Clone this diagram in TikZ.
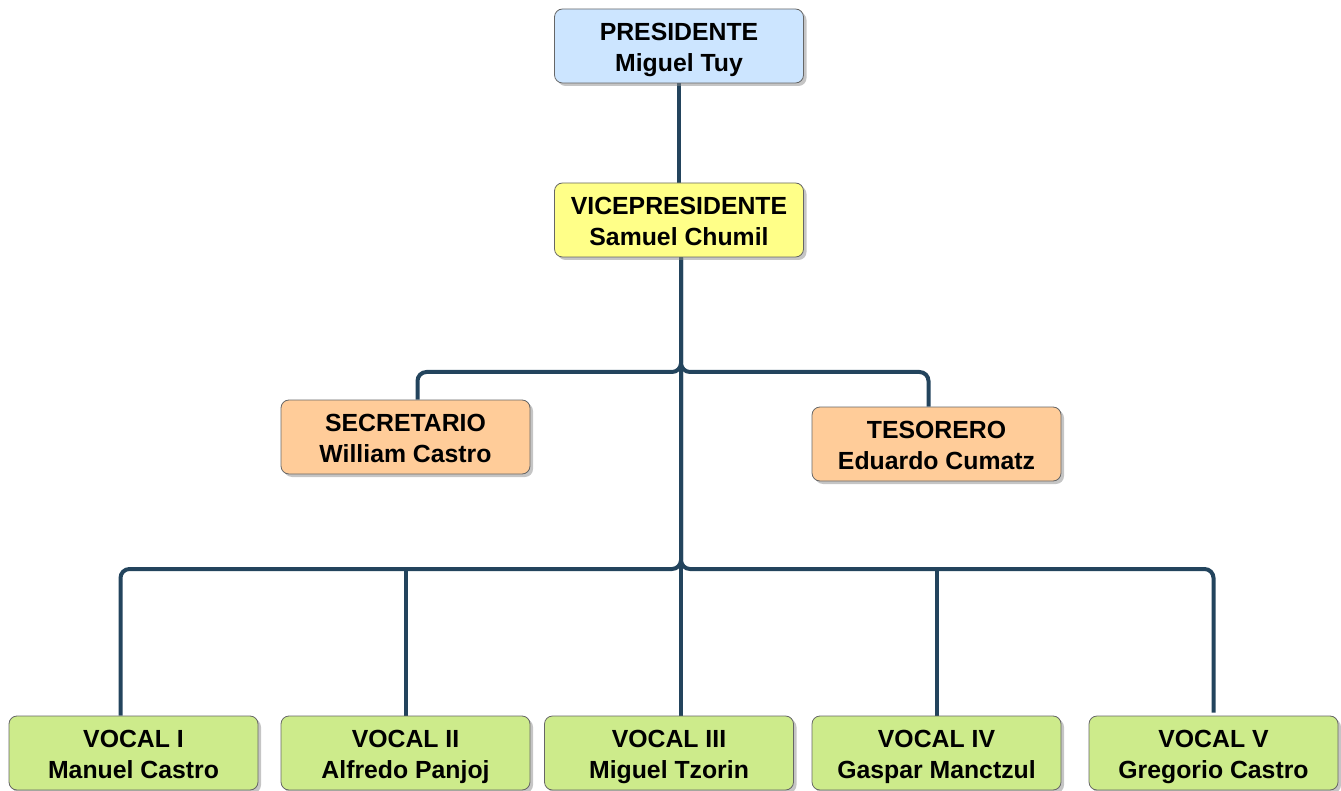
\documentclass[tikz,border=0pt]{standalone}
\usepackage{fontspec}
\setmainfont{Liberation Sans}
\usetikzlibrary{shadows}
\usetikzlibrary{calc}
\usetikzlibrary{backgrounds}
\definecolor{linkblue}{HTML}{23445D}
\definecolor{presblue}{HTML}{CCE5FF}
\definecolor{viceyellow}{HTML}{FFFF88}
\definecolor{staffpeach}{HTML}{FFCC99}
\definecolor{vocalgreen}{HTML}{CDEB8B}
\newcommand{\duo}[2]{\rule{0pt}{26pt}#1\\#2\rule[-6pt]{0pt}{6pt}}
\tikzset{
    cargo/.style={draw=black!60, line width=0.8pt, rounded corners=8pt,
        minimum width=249pt, minimum height=74pt, align=center,
        font=\fontsize{24.8}{31}\selectfont\bfseries,
        drop shadow={shadow xshift=3pt, shadow yshift=-3pt, fill=black!45, opacity=0.5}},
    link/.style={draw=linkblue, line width=4pt, rounded corners=9pt}
}

\begin{document}
\begin{tikzpicture}[x=1pt, y=-1pt]
        \useasboundingbox (0, 0) rectangle (1341, 791);
        \node[cargo, fill=presblue] (pres) at (679, 46) {\duo{PRESIDENTE}{Miguel Tuy}};
        \node[cargo, fill=viceyellow] (vice) at (679, 220) {\duo{VICEPRESIDENTE}{Samuel Chumil}};
        \node[cargo, fill=staffpeach] (sec) at (405.5, 437) {\duo{SECRETARIO}{William Castro}};
        \node[cargo, fill=staffpeach] (tes) at (936.5, 444) {\duo{TESORERO}{Eduardo Cumatz}};
        \foreach \n/\x/\r/\p in {v1/133.5/VOCAL I/Manuel Castro, v2/405.5/VOCAL II/Alfredo Panjoj,
            v3/669/VOCAL III/Miguel Tzorin, v4/936.5/VOCAL IV/Gaspar Manctzul, v5/1213.5/VOCAL V/Gregorio Castro}
        {
            \node[cargo, fill=vocalgreen] (\n) at (\x, 753) {\duo{\r}{\p}};
        }
        \coordinate (jA) at (681, 372);
        \coordinate (jB) at (681, 569);
        \begin{scope}[on background layer]
            \draw[link] (pres) -- (vice);
            \draw[link] (vice.south -| jA) -- (jB) -- (jB |- v3.north);
            \draw[link] (vice.south -| jA) -- (jA) -| ($(sec.north)+(12, 0)$);
            \draw[link] (vice.south -| jA) -- (jA) -| ($(tes.north)+(-8, 0)$);
            \draw[link] (jA) -- (jB) -| ($(v1.north)+(-13, 0)$);
            \draw[link] (jB -| v2.north) -- (v2.north);
            \draw[link] (jB -| v4.north) -- (v4.north);
            \draw[link] (jA) -- (jB) -| ($(v5.north)+(0, -3)$);
        \end{scope}
    \end{tikzpicture}
\end{document}
